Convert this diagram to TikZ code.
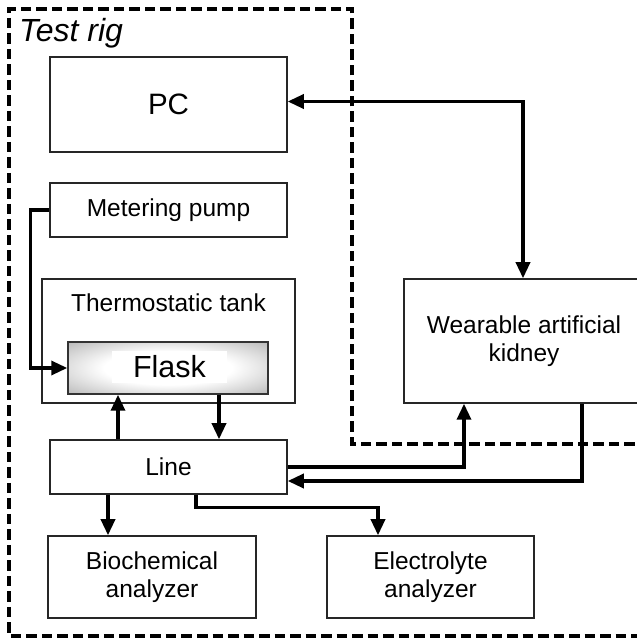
\documentclass[tikz,border=0pt]{standalone}
\usepackage{fontspec}
\setmainfont{Liberation Sans}
\usetikzlibrary{arrows.meta,calc}

% grey rim fading into a white centre, for the flask
\pgfdeclareradialshading{flaskshade}{\pgfpoint{0bp}{0bp}}{%
  color(0bp)=(white); color(16bp)=(white); color(34bp)=(black!25);
  color(50bp)=(black!50); color(71bp)=(black!70)}

\tikzset{
  x=1pt, y=1pt,
  box/.style={draw=black!85, line width=1.5pt, fill=white, rectangle,
    inner sep=0pt, align=center, font=\fontsize{24.5}{28}\selectfont},
  tip/.style={-{Triangle[length=16pt,width=14pt]}},
  conn/.style={line width=3.4pt, tip},
  plain/.style={line width=3.4pt},
  rig/.style={line width=3.2pt, dash pattern=on 10.5pt off 5pt},
}

\begin{document}
\begin{tikzpicture}
\useasboundingbox (0,0) rectangle (637,638);
\clip (0,0) rectangle (637,638);

% test rig boundary
\draw[rig] (650,194) -- (352,194) -- (352,629) -- (9,629) -- (9,2) -- (650,2);
\node[anchor=base west, font=\itshape\fontsize{32}{36}\selectfont, inner sep=0pt] (title) at (19,596) {Test rig};

% blocks
\node[box, minimum width=237, minimum height=95, font=\fontsize{29.5}{34}\selectfont] (PC) at (168.5,533.5) {PC};
\node[box, minimum width=237, minimum height=54] (MP) at (168.5,428) {Metering pump};
\node[box, minimum width=253, minimum height=124] (tank) at (168.5,297) {};
\node[font=\fontsize{24.5}{28}\selectfont, inner sep=0pt] (tankLbl) at (168.5,335) {Thermostatic tank};
\node[rectangle, draw=black!80, line width=1.5pt, minimum width=200, minimum height=52,
      shading=flaskshade] (Flask) at (168,270) {};
\node[rectangle, fill=white, minimum width=115, minimum height=32, inner sep=0pt,
      font=\fontsize{30.5}{34}\selectfont] (FlaskLbl) at (169.5,271) {Flask};
\node[box, minimum width=237, minimum height=54] (Line) at (168.5,171) {Line};
\node[box, minimum width=240, minimum height=124] (WAK) at (524,297) {Wearable artificial\\kidney};
\node[box, minimum width=208, minimum height=82] (Bio) at (152,61) {Biochemical\\analyzer};
\node[box, minimum width=207, minimum height=82] (Elec) at (430.5,61) {Electrolyte\\analyzer};

% connectors
\draw[plain, {Triangle[length=16pt,width=14pt]}-{Triangle[length=16pt,width=14pt]}]
  ([yshift=3]PC.east) -| ([xshift=-1]WAK.north);
\draw[conn] (MP.west) -- ++(-19,0) |- (Flask.west);
\draw[conn] ([xshift=-50.5]Line.north) -- ([xshift=-50.5]Line.north |- Flask.south);
\draw[conn] ([xshift=51]Flask.south) -- ([xshift=51]Flask.south |- Line.north);
\draw[conn] (Line.east) -| ([xshift=-60]WAK.south);
\draw[conn] ([xshift=58]WAK.south) |- ([yshift=-14]Line.east);
\draw[conn] ([xshift=-60.5]Line.south) -- ([xshift=-60.5]Line.south |- Bio.north);
\draw[conn] ([xshift=27.5]Line.south) -- ++(0,-13) -| ([xshift=-52.5]Elec.north);
\end{tikzpicture}
\end{document}
